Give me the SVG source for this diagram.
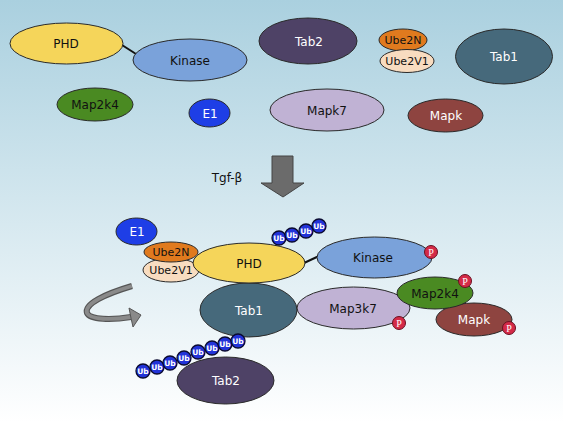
<svg xmlns="http://www.w3.org/2000/svg" width="563" height="422" viewBox="0 0 563 422">
<defs>
<linearGradient id="bg" x1="0" y1="0" x2="0" y2="1">
<stop offset="0" stop-color="#aad0df"/>
<stop offset="1" stop-color="#ffffff"/>
</linearGradient>
<g id="ub"><circle r="7" fill="#2233d8" stroke="#0a0a30" stroke-width="1.3"/><text class="ubt" y="2.7">Ub</text></g>
<g id="p"><circle r="6.5" fill="#d42a48" stroke="#6a1020" stroke-width="1"/><text class="pt" y="3.5">P</text></g>
</defs>
<style>
ellipse{stroke:#2a2a2a;stroke-width:1}
text{font-family:"DejaVu Sans","Liberation Sans",sans-serif;font-size:12px;text-anchor:middle}
.w{fill:#ffffff}
.k{fill:#111111}
.s{font-size:11px}
.ubt{font-size:7.5px;font-weight:bold;fill:#ffffff}
.pt{font-family:"Liberation Serif",serif;font-size:10px;fill:#ffffff}
.phd{fill:#f5d55a}.kin{fill:#7aa2da}.m2k4{fill:#4a8a22}.e1{fill:#1e3ee6}
.tab2{fill:#4e4266}.ube2n{fill:#e07a1e}.ube2v1{fill:#f8dcc0}.tab1{fill:#46697b}
.mapk7{fill:#c0b2d4}.mapk{fill:#8e4440}
</style>
<rect width="563" height="422" fill="url(#bg)"/>

<g id="connectors">
<line x1="122" y1="45" x2="136" y2="54" stroke="#111" stroke-width="2"/>
<line x1="304" y1="263" x2="319" y2="256" stroke="#111" stroke-width="2"/>
<path d="M272,156 H293 V183 H304 L283,197 L261,183 H272 Z" fill="#6b6b6b" stroke="#444" stroke-width="1"/>
<path d="M132,286 C105,294 84,304 87,313 C90,320 112,320 131,317" fill="none" stroke="#555" stroke-width="6"/>
<path d="M132,286 C105,294 84,304 87,313 C90,320 112,320 131,317" fill="none" stroke="#8a8a8a" stroke-width="3.8"/>
<path d="M129,308 L141,315 L133,327 L131,318 Z" fill="#8a8a8a" stroke="#555" stroke-width="1"/>
</g>

<g id="top-PHD"><ellipse class="phd" cx="66.5" cy="43.5" rx="56.5" ry="20.5"/><text class="k" x="66" y="48">PHD</text></g>
<g id="top-Kinase"><ellipse class="kin" cx="190" cy="60" rx="57" ry="21"/><text class="k" x="190" y="65">Kinase</text></g>
<g id="top-Map2k4"><ellipse class="m2k4" cx="95" cy="104.5" rx="38" ry="16.5"/><text class="k" x="95" y="109">Map2k4</text></g>
<g id="top-E1"><ellipse class="e1" cx="209.5" cy="113" rx="20.5" ry="14"/><text class="w" x="210" y="118">E1</text></g>
<g id="top-Tab2"><ellipse class="tab2" cx="308" cy="41" rx="49" ry="23"/><text class="w" x="309" y="46">Tab2</text></g>
<g id="top-Ube2N"><ellipse class="ube2n" cx="403" cy="40" rx="24" ry="11"/><text class="k s" x="403" y="44">Ube2N</text></g>
<g id="top-Ube2V1"><ellipse class="ube2v1" cx="407" cy="61" rx="27" ry="11.5"/><text class="k s" x="407" y="65">Ube2V1</text></g>
<g id="top-Tab1"><ellipse class="tab1" cx="504" cy="56.5" rx="48.5" ry="27.5"/><text class="w" x="504" y="61">Tab1</text></g>
<g id="top-Mapk7"><ellipse class="mapk7" cx="327" cy="110" rx="57" ry="21"/><text class="k" x="327" y="115">Mapk7</text></g>
<g id="top-Mapk"><ellipse class="mapk" cx="445.5" cy="115.5" rx="37.5" ry="16.5"/><text class="w" x="446" y="120">Mapk</text></g>

<g id="label-Tgf"><text class="k" x="227" y="182">Tgf-β</text></g>

<g id="E1"><ellipse class="e1" cx="136.5" cy="231.5" rx="20.5" ry="13.5"/><text class="w" x="137" y="236">E1</text></g>
<g id="Ube2V1"><ellipse class="ube2v1" cx="171" cy="270" rx="28" ry="12"/><text class="k s" x="171" y="274">Ube2V1</text></g>
<g id="Ube2N"><ellipse class="ube2n" cx="171" cy="252" rx="27" ry="10"/><text class="k s" x="171" y="256">Ube2N</text></g>
<g id="Tab2"><ellipse class="tab2" cx="225.5" cy="380.5" rx="48.5" ry="23.5"/><text class="w" x="226" y="385">Tab2</text></g>
<g id="Tab1"><ellipse class="tab1" cx="248.5" cy="310" rx="48.5" ry="27"/><text class="w" x="249" y="315">Tab1</text></g>
<g id="PHD"><ellipse class="phd" cx="249" cy="263" rx="56" ry="20"/><text class="k" x="249" y="268">PHD</text></g>
<g id="Map3k7"><ellipse class="mapk7" cx="353.5" cy="308" rx="56.5" ry="21"/><text class="k" x="353" y="313">Map3k7</text><use href="#p" x="399" y="323"/></g>
<g id="Kinase"><ellipse class="kin" cx="374.5" cy="257.5" rx="57.5" ry="20.5"/><text class="k" x="373" y="262">Kinase</text><use href="#p" x="431" y="252"/></g>
<g id="Mapk"><ellipse class="mapk" cx="474" cy="319.5" rx="38" ry="16.5"/><text class="w" x="474" y="324">Mapk</text><use href="#p" x="509" y="328"/></g>
<g id="Map2k4"><ellipse class="m2k4" cx="435" cy="293" rx="38" ry="16"/><text class="k" x="435" y="298">Map2k4</text><use href="#p" x="465" y="281"/></g>

<g id="Ub-chain-PHD">
<use href="#ub" x="279" y="238"/><use href="#ub" x="292" y="235"/><use href="#ub" x="306" y="231"/><use href="#ub" x="319" y="226"/>
</g>
<g id="Ub-chain-Tab1">
<use href="#ub" x="143" y="371"/><use href="#ub" x="157" y="367"/><use href="#ub" x="170" y="363"/><use href="#ub" x="184" y="358"/>
<use href="#ub" x="198" y="352"/><use href="#ub" x="212" y="348"/><use href="#ub" x="225" y="344"/><use href="#ub" x="238" y="341"/>
</g>
</svg>
